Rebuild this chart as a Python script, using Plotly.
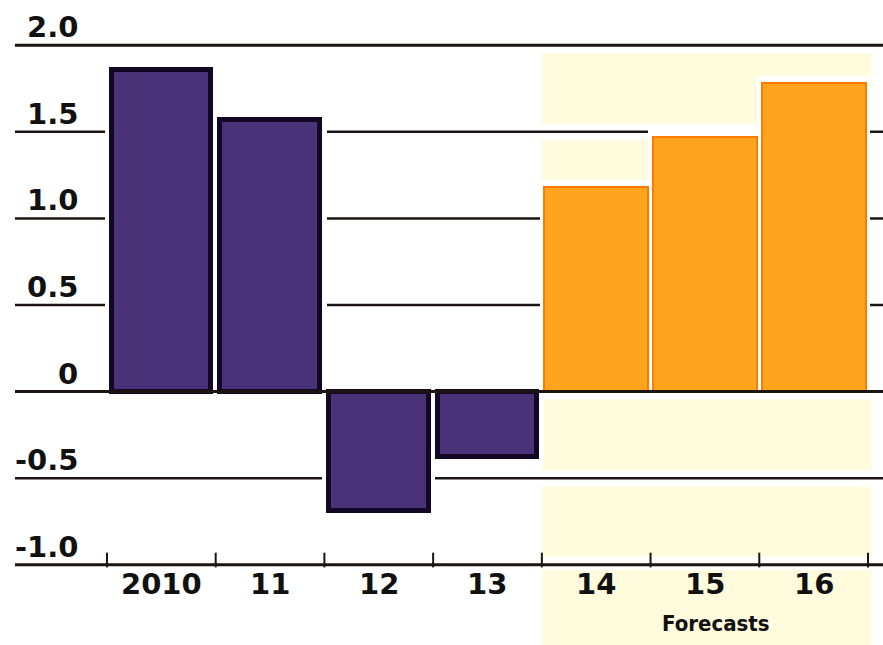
import plotly.graph_objects as go

# ---- data ----
categories = ["2010", "11", "12", "13", "14", "15", "16"]
actual_values = [1.855, 1.567, -0.69, -0.378]          # 2010-13
forecast_values = [1.18, 1.47, 1.78]                    # 14-16 (forecasts)
y_tick_values = [2.0, 1.5, 1.0, 0.5, 0.0, -0.5, -1.0]
y_tick_labels = ["2.0", "1.5", "1.0", "0.5", "0", "-0.5", "-1.0"]
forecast_label = "Forecasts"

# ---- layout geometry ----
W, H = 883, 645
ML, MR, MT, MB = 15, 0, 40, 75
X_RANGE = [-1.346, 6.638]
Y_RANGE = [-1.03, 2.03]

n_act = len(actual_values)
x_act = list(range(n_act))
x_fc = list(range(n_act, n_act + len(forecast_values)))
all_vals = actual_values + forecast_values
x_all = x_act + x_fc

def xpaper(x):
    return (x - X_RANGE[0]) / (X_RANGE[1] - X_RANGE[0])

PURPLE = "#4a3278"
PURPLE_EDGE = "#120826"
ORANGE = "#ffa41c"
ORANGE_EDGE = "#ff7a00"
YELLOW = "#fffbdc"
LINE = "#1c1410"

fig = go.Figure()

# white halo behind each bar (gridlines stop short of bars)
halo = [v + (0.04 if v >= 0 else -0.04) for v in all_vals]
fig.add_trace(go.Bar(x=x_all, y=halo, width=1.04, marker=dict(color="white", line=dict(width=0)),
                     hoverinfo="skip", showlegend=False))
fig.add_trace(go.Bar(x=x_act, y=actual_values, width=0.915,
                     marker=dict(color=PURPLE, line=dict(color=PURPLE_EDGE, width=5)),
                     showlegend=False))
fig.add_trace(go.Bar(x=x_fc, y=forecast_values, width=0.955,
                     marker=dict(color=ORANGE, line=dict(color=ORANGE_EDGE, width=2)),
                     showlegend=False))

shapes = []
# forecast shaded band
fc_left = x_fc[0] - 0.5
fc_right = x_fc[-1] + 0.53
shapes.append(dict(type="rect", xref="paper", yref="paper",
                   x0=xpaper(fc_left), x1=xpaper(fc_right),
                   y0=-0.2, y1=(1.955 - Y_RANGE[0]) / (Y_RANGE[1] - Y_RANGE[0]),
                   fillcolor=YELLOW, line=dict(width=0), layer="below"))
# white halos around gridlines
for v in y_tick_values:
    shapes.append(dict(type="line", xref="paper", yref="y", x0=0, x1=1, y0=v, y1=v,
                       line=dict(color="white", width=16), layer="below"))
# gridlines
for v in y_tick_values:
    if v == 0:
        continue
    w = 3 if v in (2.0, -1.0) else 2.5
    shapes.append(dict(type="line", xref="paper", yref="y", x0=0, x1=1, y0=v, y1=v,
                       line=dict(color=LINE, width=w), layer="below"))
# zero line on top of bars
shapes.append(dict(type="line", xref="paper", yref="y", x0=0, x1=1, y0=0, y1=0,
                   line=dict(color=LINE, width=3), layer="above"))
# category boundary ticks on the bottom axis
for i in range(len(categories) + 1):
    xb = i - 0.5
    shapes.append(dict(type="line", xref="x", yref="y", x0=xb, x1=xb, y0=-1.015, y1=-0.93,
                       line=dict(color=LINE, width=2), layer="above"))

annotations = []
FONT = "DejaVu Sans, sans-serif"
for v, t in zip(y_tick_values, y_tick_labels):
    annotations.append(dict(text=t, xref="paper", yref="y", x=(80 - ML) / (W - ML - MR), y=v,
                            xanchor="right", yanchor="bottom", showarrow=False, yshift=-1,
                            font=dict(family=FONT, size=29, color="#111111", weight="bold")))
for x, c in zip(x_all, categories):
    annotations.append(dict(text=c, xref="x", yref="y", x=x, y=-1.0,
                            xanchor="center", yanchor="top", showarrow=False, yshift=0,
                            font=dict(family=FONT, size=29, color="#111111", weight="bold")))
annotations.append(dict(text=forecast_label, xref="x", yref="y", x=(x_fc[0] + x_fc[-1]) / 2 + 0.1,
                        y=-1.0, xanchor="center", yanchor="top", showarrow=False, yshift=-44,
                        font=dict(family="DejaVu Sans Condensed, sans-serif",
                                  size=22, color="#111111", weight="bold")))

fig.update_layout(
    width=W, height=H,
    margin=dict(l=ML, r=MR, t=MT, b=MB, pad=0),
    paper_bgcolor="white", plot_bgcolor="rgba(0,0,0,0)",
    barmode="overlay", bargap=0,
    xaxis=dict(range=X_RANGE, visible=False, fixedrange=True),
    yaxis=dict(range=Y_RANGE, visible=False, fixedrange=True),
    shapes=shapes, annotations=annotations,
)

fig.write_html("out.html", config={"displayModeBar": False},
               post_script="document.body.style.margin='0';")
